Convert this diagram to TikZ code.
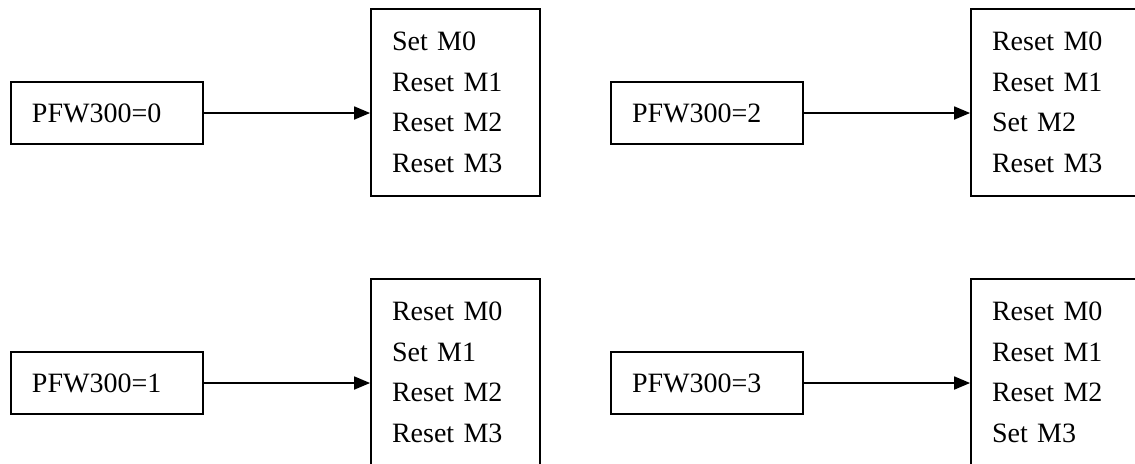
\documentclass[tikz,border=0pt]{standalone}
\usepackage{fontspec}
\setmainfont{Liberation Serif}
\usetikzlibrary{arrows.meta}
\tikzset{
  condbox/.style={draw, line width=0.9pt, rectangle, inner xsep=10.5pt, inner ysep=0pt,
    text width=75pt, align=left, minimum height=31pt,
    font=\fontsize{14}{20.3}\selectfont},
  actbox/.style={draw, line width=0.9pt, rectangle, inner xsep=10.5pt, inner ysep=0pt,
    text width=63.5pt, align=left, minimum height=93.5pt,
    font=\fontsize{14}{20.3}\selectfont},
  arr/.style={line width=0.9pt, -{Triangle[length=8pt,width=6.5pt]}}
}
\begin{document}
\begin{tikzpicture}[x=0.5pt,y=-0.5pt]
\useasboundingbox (0,0) rectangle (1135,463);
\clip (0,0) rectangle (1135,463);
% top row
\node[condbox] (c0) at (107,113) {PFW300=0};
\node[actbox] (a0) at (455.5,102.5) {Set M0\\Reset M1\\Reset M2\\Reset M3};
\node[condbox] (c2) at (707,113) {PFW300=2};
\node[actbox] (a2) at (1055.5,102.5) {Reset M0\\Reset M1\\Set M2\\Reset M3};
% bottom row
\node[condbox] (c1) at (107,383) {PFW300=1};
\node[actbox] (a1) at (455.5,372.5) {Reset M0\\Set M1\\Reset M2\\Reset M3};
\node[condbox] (c3) at (707,383) {PFW300=3};
\node[actbox] (a3) at (1055.5,372.5) {Reset M0\\Reset M1\\Reset M2\\Set M3};
% arrows
\draw[arr] (c0.east) -- (c0.east -| a0.west);
\draw[arr] (c2.east) -- (c2.east -| a2.west);
\draw[arr] (c1.east) -- (c1.east -| a1.west);
\draw[arr] (c3.east) -- (c3.east -| a3.west);
\end{tikzpicture}
\end{document}
